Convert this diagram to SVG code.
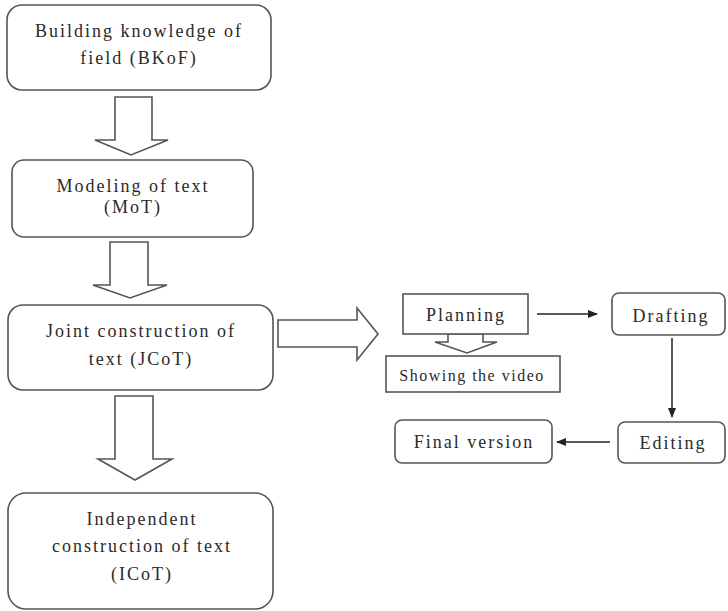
<svg xmlns="http://www.w3.org/2000/svg" width="728" height="611" viewBox="0 0 728 611">
<style>
.box{fill:#fff;stroke:#555;stroke-width:1.6}
.blk{fill:#fff;stroke:#555;stroke-width:1.6;stroke-linejoin:miter}
.t{font-family:"Liberation Serif","Times New Roman",serif;font-size:18px;fill:#2a2a2a;text-anchor:middle;letter-spacing:2px}
.s{font-size:16px;letter-spacing:1.5px}
.ln{stroke:#222;stroke-width:1.5;fill:none}
</style>
<defs>
<marker id="ah" viewBox="0 0 10 10" refX="9" refY="5" markerWidth="10" markerHeight="10" markerUnits="userSpaceOnUse" orient="auto">
<path d="M0,1 L10,5 L0,9 z" fill="#222"/>
</marker>
</defs>
<g id="connectors">
<polygon class="blk" points="115,97 152,97 152,140 168,140 131,155 95,140 115,140"/>
<polygon class="blk" points="110,242 148,242 148,285 167,285 130,298 93,285 110,285"/>
<polygon class="blk" points="115,396 153,396 153,459 172,459 135,480 98,459 115,459"/>
<polygon class="blk" points="278,320 357,320 357,308 378,334 357,360 357,347 278,347"/>
<polygon class="blk" points="448,334 483,334 483,342 497,342 467,353 435,342 448,342"/>
<line class="ln" x1="537" y1="314" x2="597" y2="314" marker-end="url(#ah)"/>
<line class="ln" x1="672" y1="338" x2="672" y2="417" marker-end="url(#ah)"/>
<line class="ln" x1="610" y1="442" x2="557" y2="442" marker-end="url(#ah)"/>
</g>
<g id="bkof">
<rect class="box" x="7" y="5" width="264" height="85" rx="15"/>
<text class="t" x="139" y="37">Building knowledge of</text>
<text class="t" x="139" y="64">field (BKoF)</text>
</g>
<g id="mot">
<rect class="box" x="12" y="160" width="241" height="77" rx="12"/>
<text class="t" x="133" y="192">Modeling of text</text>
<text class="t" x="133" y="213">(MoT)</text>
</g>
<g id="jcot">
<rect class="box" x="8" y="305" width="265" height="85" rx="15"/>
<text class="t" x="141" y="337">Joint construction of</text>
<text class="t" x="141" y="365">text (JCoT)</text>
</g>
<g id="icot">
<rect class="box" x="8" y="493" width="265" height="116" rx="18"/>
<text class="t" x="142" y="525">Independent</text>
<text class="t" x="142" y="552">construction of text</text>
<text class="t" x="142" y="580">(ICoT)</text>
</g>
<g id="planning">
<rect class="box" x="403" y="294" width="125" height="40"/>
<text class="t" x="466" y="321">Planning</text>
</g>
<g id="video">
<rect class="box" x="386" y="356" width="174" height="36"/>
<text class="t s" x="472" y="381">Showing the video</text>
</g>
<g id="drafting">
<rect class="box" x="612" y="293" width="113" height="42" rx="7"/>
<text class="t" x="671" y="322">Drafting</text>
</g>
<g id="editing">
<rect class="box" x="618" y="422" width="107" height="41" rx="7"/>
<text class="t" x="673" y="449">Editing</text>
</g>
<g id="final">
<rect class="box" x="395" y="420" width="157" height="43" rx="7"/>
<text class="t" x="474" y="448">Final version</text>
</g>
</svg>
